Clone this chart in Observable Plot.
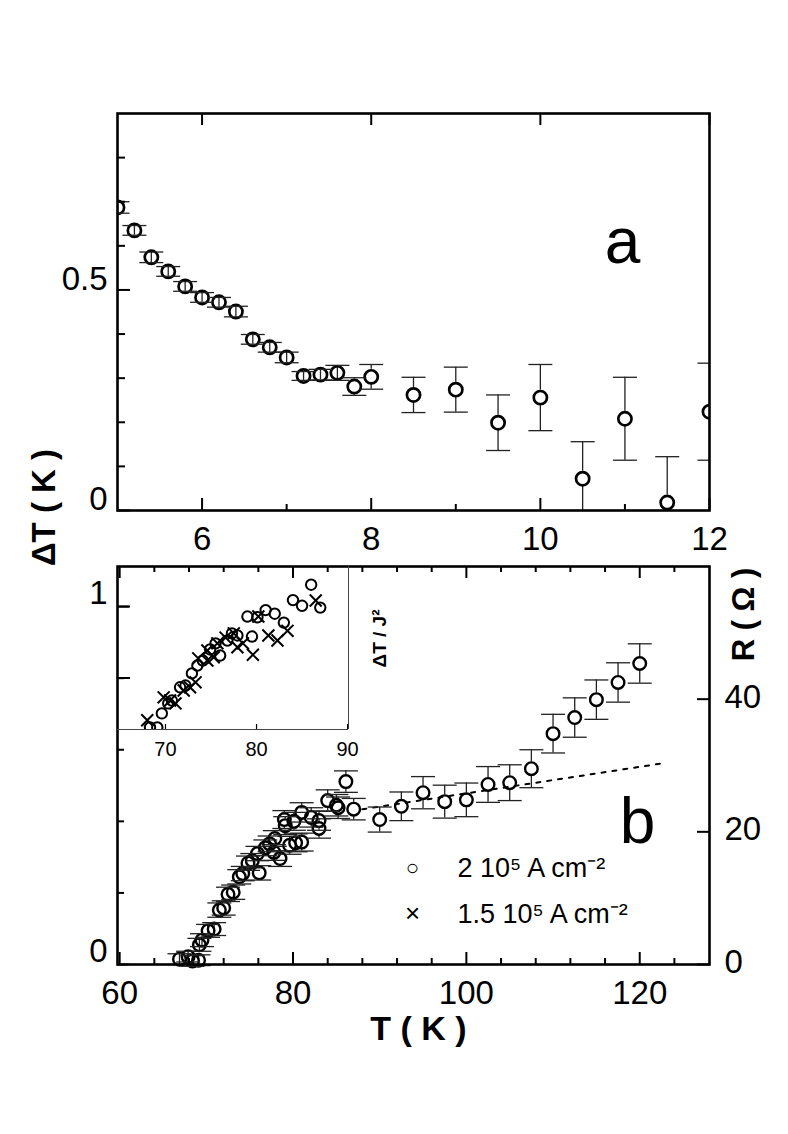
<!DOCTYPE html>
<html><head><meta charset="utf-8">
<script src="https://cdn.jsdelivr.net/npm/d3@7"></script>
<script src="https://cdn.jsdelivr.net/npm/@observablehq/plot@0.6"></script>
<style>
body{margin:0;background:#fff;}
#wrap{position:relative;width:788px;height:1134px;background:#fff;}
#wrap > svg{position:absolute;left:0;}
</style></head><body><div id="wrap"></div>
<script>
// ---------- Panel a: ΔT vs T (low temperature) ----------
const aT   = [5.0,5.2,5.4,5.6,5.8,6.0,6.2,6.4,6.6,6.8,7.0,7.2,7.4,7.6,7.8,8.0,8.5,9.0,9.5,10.0,10.5,11.0,11.5,12.0];
const aDT  = [0.687,0.635,0.574,0.542,0.508,0.483,0.472,0.451,0.388,0.370,0.347,0.305,0.308,0.312,0.281,0.303,0.262,0.274,0.199,0.256,0.072,0.208,0.018,0.224];
const aErr = [0.013,0.011,0.012,0.011,0.011,0.011,0.011,0.012,0.011,0.011,0.012,0.010,0.012,0.017,0.020,0.028,0.040,0.051,0.063,0.075,0.084,0.094,0.104,0.110];
const aXMajor = [6,8,10,12];
const aXMinor = [7,9,11];
const aYMajor = [0,0.5];
const aYMinor = [0.1,0.2,0.3,0.4,0.6,0.7,0.8];
const aYLabels = ["0","0.5"];

// ---------- Panel b: ΔT vs T (high temperature) ----------
const bT   = [66.9,67.9,68.4,69.1,69.2,69.5,70.2,70.9,71.5,72.0,72.5,73.1,73.8,74.2,74.8,75.3,75.9,76.1,76.8,77.3,77.9,77.8,78.5,79.0,79.1,79.6,80.1,80.3,81.0,81.0,82.1,83.0,83.0,84.0,85.0,85.2,86.1,87.0,90.0,92.5,95.0,97.5,100.0,102.5,105.0,107.5,110.0,112.5,115.0,117.5,120.0];
const bDT  = [0.015,0.022,0.010,0.012,0.055,0.068,0.094,0.099,0.152,0.158,0.196,0.202,0.245,0.254,0.283,0.290,0.310,0.256,0.326,0.337,0.352,0.313,0.296,0.405,0.388,0.333,0.400,0.340,0.342,0.425,0.411,0.402,0.380,0.458,0.445,0.438,0.511,0.434,0.405,0.442,0.480,0.455,0.460,0.503,0.508,0.547,0.645,0.690,0.740,0.788,0.841];
const bErr = [0.015,0.015,0.015,0.015,0.018,0.018,0.018,0.018,0.020,0.020,0.020,0.020,0.020,0.020,0.020,0.020,0.020,0.020,0.022,0.022,0.022,0.022,0.022,0.025,0.025,0.025,0.025,0.025,0.025,0.027,0.027,0.027,0.027,0.030,0.030,0.030,0.030,0.030,0.035,0.040,0.045,0.046,0.047,0.050,0.050,0.053,0.054,0.055,0.055,0.055,0.055];
// normal-state resistance (right axis, Ω), dotted line
const rT = [88.0, 123.0];
const rR = [23.4, 30.4];
const bXMajor = [60,80,100,120];
const bXMinor = [64,68,72,76,84,88,92,96,104,108,112,116,124];
const bYMajor = [0,1];
const bYMinor = [0.2,0.4,0.6,0.8];
const bYLabels = ["0","1"];
const rTicks = [0,20,40];
const legendLabels = ["2 10\u2075 A cm\u207B\u00B2", "1.5 10\u2075 A cm\u207B\u00B2"];
const legendSymbols = ["\u25CB", "\u00D7"];

// ---------- Inset: ΔT / J² vs T ----------
const iCircT = [68.3,69.1,69.6,70.3,70.7,71.6,72.2,72.9,73.5,74.1,74.9,75.5,76.0,76.8,77.3,77.9,79.0,79.5,80.1,81.0,82.0,83.0,84.0,85.0,86.0,87.0];
const iCircY = [0.662,0.662,0.701,0.729,0.737,0.774,0.779,0.813,0.835,0.849,0.880,0.897,0.863,0.905,0.925,0.919,0.972,0.916,0.970,0.990,0.980,0.955,1.018,1.002,1.061,0.997];
const iCrossT = [68.0,69.8,70.5,71.1,72.0,72.7,73.3,73.6,74.6,74.6,75.3,75.7,76.6,77.5,77.9,78.5,79.6,80.2,81.3,82.3,83.4,86.5];
const iCrossY = [0.682,0.746,0.737,0.729,0.765,0.774,0.788,0.855,0.849,0.877,0.858,0.897,0.913,0.925,0.886,0.897,0.865,0.972,0.919,0.905,0.932,1.017];
const iXTicks = [70,80,90];
const iYTicks = [0.8,1.0];

// ---------- layout ----------
const W = 788;
const FONT = '"Liberation Sans", Arial, Helvetica, sans-serif';
const style = {fontFamily: FONT, background: "transparent", overflow: "visible", color: "#000"};
const hline = {draw(ctx, size){ const r = Math.sqrt(size/Math.PI); ctx.moveTo(-r,0); ctx.lineTo(r,0); }};
const M = {textAnchor:"middle", lineAnchor:"middle"};

function errorParts(T, V, E, gap){
  const rows = T.map((t,i)=>({T:t, v:V[i], e:E[i]}));
  const caps = rows.flatMap(d=>[{T:d.T, y:d.v+d.e},{T:d.T, y:d.v-d.e}]);
  const segs = rows.flatMap(d=> d.e > gap
    ? [{T:d.T, y1:d.v+gap, y2:d.v+d.e},{T:d.T, y1:d.v-d.e, y2:d.v-gap}]
    : [{T:d.T, y1:d.v-d.e, y2:d.v+d.e}]);
  return {rows, caps, segs};
}

const wrap = document.getElementById("wrap");

// ===== Panel a =====
{
  const H = 560, mt = 113, mb = 50, ml = 117, mr = 79;
  const fh = H-mt-mb, fw = W-ml-mr;
  const yDom = [0, 0.9];
  const gap = 7.5 * (yDom[1]-yDom[0]) / fh;
  const {rows, caps, segs} = errorParts(aT, aDT, aErr, gap);
  const svg = Plot.plot({
    width: W, height: H, marginTop: mt, marginBottom: mb, marginLeft: ml, marginRight: mr,
    style,
    x: {domain: [5, 12], axis: null},
    y: {domain: yDom, axis: null},
    marks: [
      Plot.ruleX(segs, {x:"T", y1:"y1", y2:"y2", stroke:"#222", strokeWidth:1.3, clip:true}),
      Plot.dot(rows, {x:"T", y:"v", r:6.6, stroke:"#000", strokeWidth:2.7, fill:"none", clip:true}),
      Plot.dot(caps, {x:"T", y:"y", symbol: hline, r:12, stroke:"#222", strokeWidth:1.3, fill:"none", clip:true}),
      // ticks
      Plot.ruleX(aXMajor, {x:d=>d, insetTop: fh-12, strokeWidth:2}),
      Plot.ruleX(aXMinor, {x:d=>d, insetTop: fh-6, strokeWidth:2}),
      Plot.ruleX(aXMajor, {x:d=>d, insetBottom: fh-12, strokeWidth:2}),
      Plot.ruleY(aYMajor, {y:d=>d, insetRight: fw-13, strokeWidth:2}),
      Plot.ruleY(aYMinor, {y:d=>d, insetRight: fw-8, strokeWidth:2}),
      Plot.frame({stroke:"#000", strokeWidth:2.6}),
      // tick labels
      Plot.text(aXMajor, {...M, x:d=>d, frameAnchor:"bottom", dy:29, text:d=>String(d), fontSize:33}),
      Plot.text(aYMajor, {y:d=>d, frameAnchor:"left", lineAnchor:"middle", dx:-10, dy:-11, textAnchor:"end", text:(d,i)=>aYLabels[i], fontSize:33}),
      // labels
      Plot.text(["a"], {frameAnchor:"top-left", textAnchor:"middle", lineAnchor:"bottom", dx:505, dy:149, text:d=>d, fontSize:64}),
      Plot.text(["\u0394T ( K )"], {...M, frameAnchor:"bottom-left", dx:-73, dy:-3, rotate:-90, text:d=>d, fontSize:33, fontWeight:"bold"})
    ]
  });
  svg.style.top = "0px";
  wrap.appendChild(svg);
}

// ===== Panel b =====
const B = {top:540, H:594, mt:26, mb:170, ml:117, mr:79};
{
  const {H, mt, mb, ml, mr} = B;
  const fh = H-mt-mb, fw = W-ml-mr;
  const yDom = [0, 1.112];
  const rToY = d3.scaleLinear([0, 60], [0, 1.112]);
  const gap = 6.8 * (yDom[1]-yDom[0]) / fh;
  const {rows, caps, segs} = errorParts(bT, bDT, bErr, gap);
  const rLine = rT.map((t,i)=>({T:t, R:rR[i]}));
  const svg = Plot.plot({
    width: W, height: H, marginTop: mt, marginBottom: mb, marginLeft: ml, marginRight: mr,
    style,
    x: {domain: [59.75, 128.05], axis: null},
    y: {domain: yDom, axis: null},
    marks: [
      Plot.line(rLine, {x:"T", y:d=>rToY(d.R), stroke:"#000", strokeWidth:2, strokeDasharray:"4,7"}),
      Plot.ruleX(segs, {x:"T", y1:"y1", y2:"y2", stroke:"#222", strokeWidth:1.3}),
      Plot.dot(rows, {x:"T", y:"v", r:6.3, stroke:"#000", strokeWidth:2.4, fill:"none"}),
      Plot.dot(caps, {x:"T", y:"y", symbol: hline, r:12, stroke:"#222", strokeWidth:1.3, fill:"none"}),
      // ticks
      Plot.ruleX(bXMajor, {x:d=>d, insetTop: fh-12, strokeWidth:2}),
      Plot.ruleX(bXMinor, {x:d=>d, insetTop: fh-6, strokeWidth:2}),
      Plot.ruleX(bXMajor, {x:d=>d, insetBottom: fh-12, strokeWidth:2}),
      Plot.ruleX(bXMinor, {x:d=>d, insetBottom: fh-6, strokeWidth:2}),
      Plot.ruleY(bYMajor, {y:d=>d, insetRight: fw-12, strokeWidth:2}),
      Plot.ruleY(bYMinor, {y:d=>d, insetRight: fw-7, strokeWidth:2}),
      Plot.ruleY(rTicks, {y:d=>rToY(d), insetLeft: fw-12, strokeWidth:2}),
      Plot.frame({stroke:"#000", strokeWidth:2.6}),
      // tick labels
      Plot.text(bXMajor, {...M, x:d=>d, frameAnchor:"bottom", dy:29, text:d=>String(d), fontSize:33}),
      Plot.text(bYMajor, {y:d=>d, frameAnchor:"left", lineAnchor:"middle", dx:-10, dy:-13, textAnchor:"end", text:(d,i)=>bYLabels[i], fontSize:33}),
      Plot.text(rTicks, {y:d=>rToY(d), frameAnchor:"right", lineAnchor:"middle", dx:15, dy:-2, textAnchor:"start", text:d=>String(d), fontSize:33}),
      // legend
      Plot.text(legendSymbols, {...M, frameAnchor:"top-left", dx:295, dy:301, text:d=>d, fontSize:22, fill:"#000", filter:(d,i)=>i===0}),
      Plot.text(legendSymbols, {...M, frameAnchor:"top-left", dx:295, dy:347, text:d=>d, fontSize:26, fill:"#000", filter:(d,i)=>i===1}),
      Plot.text(legendLabels, {frameAnchor:"top-left", textAnchor:"start", lineAnchor:"middle", dx:340, dy:302, text:d=>d, fontSize:27, filter:(d,i)=>i===0}),
      Plot.text(legendLabels, {frameAnchor:"top-left", textAnchor:"start", lineAnchor:"middle", dx:340, dy:348, text:d=>d, fontSize:27, filter:(d,i)=>i===1}),
      // labels
      Plot.text(["b"], {frameAnchor:"top-left", textAnchor:"middle", lineAnchor:"bottom", dx:520, dy:276, text:d=>d, fontSize:64}),
      Plot.text(["T ( K )"], {...M, frameAnchor:"bottom", dx:5, dy:65, text:d=>d, fontSize:34, fontWeight:"bold"}),
      Plot.text(["R ( \u03A9 )"], {...M, frameAnchor:"top-right", dx:35, dy:48, rotate:-90, text:d=>d, fontSize:31, fontWeight:"bold"})
    ]
  });
  svg.style.top = B.top + "px";
  wrap.appendChild(svg);
}

// ===== Inset =====
{
  const H = B.H, mt = B.mt, mb = 405, ml = B.ml, mr = 440;
  const fh = H-mt-mb, fw = W-ml-mr;
  const xDom = [64.73, 90.1], yDom = [0.656, 1.112];
  const circ = iCircT.map((t,i)=>({T:t, v:iCircY[i]}));
  const cross = iCrossT.map((t,i)=>({T:t, v:iCrossY[i]}));
  const svg = Plot.plot({
    width: W, height: H, marginTop: mt, marginBottom: mb, marginLeft: ml, marginRight: mr,
    style,
    x: {domain: xDom, axis: null},
    y: {domain: yDom, axis: null},
    marks: [
      Plot.dot(circ, {x:"T", y:"v", r:5.2, stroke:"#000", strokeWidth:2, fill:"none", clip:true}),
      Plot.dot(cross, {x:"T", y:"v", symbol:"times", r:5.5, stroke:"#000", strokeWidth:2, clip:true}),
      Plot.ruleY([yDom[0]], {stroke:"#444", strokeWidth:1}),
      Plot.ruleX([xDom[1]], {stroke:"#444", strokeWidth:1}),
      Plot.ruleX(iXTicks, {x:d=>d, insetTop: fh-5, strokeWidth:1.2}),
      Plot.ruleY(iYTicks, {y:d=>d, insetRight: fw-13, strokeWidth:2}),
      Plot.text(iXTicks, {...M, x:d=>d, frameAnchor:"bottom", dy:20, text:d=>String(d), fontSize:20}),
      Plot.text(["\u0394T / J\u00B2"], {...M, frameAnchor:"top-right", dx:31, dy:72, rotate:-90, text:d=>d, fontSize:19, fontWeight:"bold"})
    ]
  });
  svg.style.top = B.top + "px";
  wrap.appendChild(svg);
}
</script></body></html>
